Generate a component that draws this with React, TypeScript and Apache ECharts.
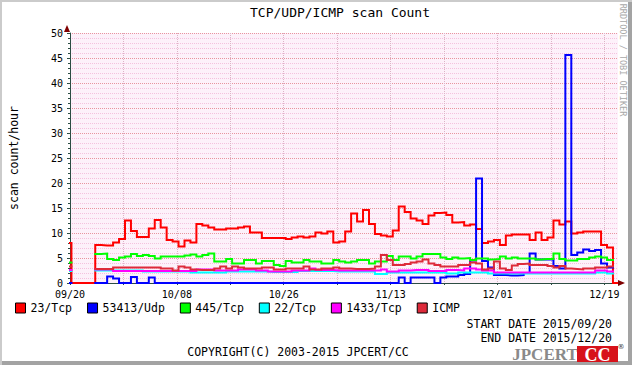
import React, { useEffect, useRef } from 'react';
import * as echarts from 'echarts';

const FONT = '"DejaVu Sans Mono", monospace';
const START_UTC = Date.UTC(2015, 8, 20);
const X_MAX = 92.3;
const BIN_START = -0.76;
const DATA_END = 91.45;
const BIN_COUNT = 92;

const seriesNames = ['23/Tcp', '53413/Udp', '445/Tcp', '22/Tcp', '1433/Tcp', 'ICMP'];
const seriesColors = ['#ff0000', '#0000ff', '#00ff00', '#00ffff', '#ff00ff', '#dd2a3a'];

const N = null;

const tcp23 = [8.0, 0, 0, 0, 0, 7.6, 7.5, 7.5, 8.1, 8.8, 12.5, 10.4, 9.2, 9.2, 10.9, 12.6, 11.1, 8.6, 8.3, 7.3,
  8.5, 8.1, 11.8, 11.5, 11.1, 10.7, 10.7, 10.9, 10.9, 11.1, 11.3, 10.1, 10.1, 9.0, 9.0, 9.0, 9.0, 8.8, 9.1, 9.3,
  9.1, 9.3, 10.1, 9.9, 10.3, 8.1, 8.3, 10.3, 13.9, 12.3, 14.6, 11.8, 9.8, 9.5, 9.3, 10.5, 15.3, 14.2, 12.9, 12.5,
  11.8, 13.5, 14.0, 14.1, 13.6, 12.1, 12.2, 11.5, 11.7, 10.8, 8.0, 8.3, 8.6, 7.6, 9.5, 9.7, 9.7, 9.7, 8.6, 10.1,
  8.6, 9.1, 12.5, 11.7, 12.3, 9.9, 10.1, 10.3, 10.3, 10.3, 7.6, 7.1];

const udp53413 = [0, N, N, N, N, 0, 0, 1.3, 0.9, 0, 0, 1.2, 0, 0, 1.1, 0, 0, 0, 0, 0,
  0, 0, 0, 0, 0, 0, 0, 0, 0, 0, 0, 0, 0, 0, 0, 0, 0, 0, 0, 0,
  0, 0, 0, 0, 0, 0, 0, 0, 0, 0, 0, 0, 0, 0, 0, 0, 1.1, 0, 1.1, 1.1,
  1.1, 1.1, 0, 1.1, 1.3, 1.3, 1.6, 1.8, 4.5, 20.9, 4.4, 3.1, 1.6, 1.6, 1.5, 1.5, 1.6, 2.0, 5.9, 4.7,
  4.7, 4.7, 3.4, 2.9, 45.6, 5.6, 6.1, 6.7, 6.4, 6.6, 3.9, 3.1];

const tcp445 = [4.1, N, N, N, N, 5.8, 5.9, 4.8, 4.6, 5.1, 5.3, 5.8, 5.4, 5.6, 5.4, 4.9, 5.3, 5.3, 5.3, 5.3,
  5.5, 5.7, 5.3, 5.6, 5.9, 4.3, 4.3, 4.8, 3.9, 3.9, 4.6, 4.6, 3.9, 4.4, 4.4, 3.6, 3.4, 4.4, 4.1, 4.1,
  4.6, 4.3, 4.3, 3.9, 3.9, 4.6, 4.3, 4.1, 4.3, 4.6, 4.6, 3.9, 4.3, 4.3, 5.4, 4.6, 5.3, 5.3, 4.9, 5.3,
  5.8, 5.8, 5.8, 5.1, 4.8, 5.1, 4.9, 5.0, 4.6, 4.9, 4.9, 4.7, 4.8, 5.3, 4.9, 5.1, 4.9, 4.9, 4.9, 4.7,
  4.8, 4.8, 5.9, 4.8, 4.5, 4.5, 4.8, 4.8, 5.1, 5.3, 5.1, 4.6];

const tcp22 = [2.4, N, N, N, N, 2.5, 2.5, 2.5, 2.5, 2.5, 2.5, 2.5, 2.5, 2.3, 2.3, 2.3, 2.3, 2.3, 2.3, 2.3,
  2.3, 2.1, 2.1, 2.1, 2.1, 2.1, 2.1, 2.3, 2.3, 2.3, 2.3, 2.3, 2.3, 2.3, 2.2, 2.2, 2.2, 2.2, 2.2, 2.4,
  2.4, 2.4, 2.4, 2.4, 2.4, 2.3, 2.3, 2.3, 2.3, 2.3, 2.3, 2.3, 1.8, 1.8, 2.1, 2.1, 2.1, 2.1, 2.1, 2.1,
  2.1, 2.1, 2.1, 2.1, 1.9, 1.9, 2.1, 2.1, 2.1, 2.1, 2.1, 1.9, 1.9, 1.9, 1.9, 1.9, 1.9, 1.9, 1.9, 1.9,
  1.9, 1.9, 1.9, 1.9, 1.9, 1.9, 1.9, 1.9, 1.9, 2.1, 2.1, 1.9];

const tcp1433 = [2.6, N, N, N, N, 2.7, 2.7, 2.7, 2.4, 2.4, 2.4, 2.4, 2.4, 2.4, 2.4, 2.4, 2.4, 2.4, 2.4, 2.4,
  2.4, 2.4, 2.7, 2.7, 2.7, 2.5, 2.5, 2.5, 2.5, 2.7, 2.7, 2.7, 2.5, 2.5, 2.3, 2.3, 2.3, 2.3, 2.5, 2.5,
  2.5, 2.9, 2.6, 2.6, 2.6, 2.5, 2.5, 2.5, 2.5, 2.5, 2.5, 2.5, 2.5, 2.7, 2.3, 2.3, 2.5, 2.5, 2.6, 2.6,
  2.6, 2.4, 2.4, 2.4, 2.6, 2.6, 2.5, 2.9, 2.9, 2.7, 2.5, 2.5, 2.1, 2.1, 2.1, 2.1, 2.1, 2.1, 2.1, 2.1,
  2.1, 2.1, 2.1, 2.1, 2.1, 2.1, 2.1, 2.1, 2.1, 2.5, 2.5, 2.3];

const icmp = [3.3, N, N, N, N, 2.8, 2.8, 2.8, 3.1, 3.1, 3.1, 3.1, 3.1, 3.1, 3.1, 3.1, 2.9, 2.9, 2.5, 3.3,
  3.1, 2.7, 2.6, 2.6, 2.6, 2.9, 3.3, 2.9, 3.3, 3.1, 2.9, 2.9, 2.9, 3.1, 3.1, 2.7, 2.7, 2.9, 2.9, 2.9,
  3.3, 2.7, 2.7, 2.9, 2.9, 3.1, 2.9, 2.9, 2.8, 2.8, 2.8, 2.9, 3.3, 5.6, 4.6, 3.6, 3.6, 3.8, 4.1, 4.3,
  4.7, 3.9, 3.6, 3.3, 3.3, 3.3, 3.6, 3.6, 4.1, 3.9, 2.7, 2.9, 4.3, 2.9, 2.6, 3.5, 3.8, 3.9, 3.6, 3.6,
  3.6, 3.4, 3.1, 3.4, 2.9, 2.8, 2.7, 2.9, 2.9, 3.1, 3.1, 3.3];

const seriesValues = [tcp23, udp53413, tcp445, tcp22, tcp1433, icmp];

const startDateText = 'START DATE 2015/09/20';
const endDateText = 'END DATE 2015/12/20';
const copyrightText = 'COPYRIGHT(C) 2003-2015 JPCERT/CC';
const vendorText = 'RRDTOOL / TOBI OETIKER';

function dayLabel(d: number): string {
  const dt = new Date(START_UTC + Math.round(d) * 86400000);
  const mm = String(dt.getUTCMonth() + 1).padStart(2, '0');
  const dd = String(dt.getUTCDate()).padStart(2, '0');
  return `${mm}/${dd}`;
}

function toSteps(vals: (number | null)[], dropToZero: boolean) {
  const w = (DATA_END - BIN_START) / BIN_COUNT;
  const pts: any[] = [];
  vals.forEach((v, k) => {
    const s = BIN_START + k * w;
    const e = s + w;
    if (v === null) pts.push([s, '-']);
    else {
      pts.push([s, v]);
      pts.push([e, v]);
    }
  });
  if (dropToZero) {
    pts.push([DATA_END, 0]);
    pts.push([X_MAX, 0]);
  }
  return pts;
}

export default function App() {
  const ref = useRef<HTMLDivElement>(null);
  useEffect(() => {
    const chart = echarts.init(ref.current!, null, { renderer: 'svg' });
    const option: any = {
      animation: false,
      title: {
        text: 'TCP/UDP/ICMP scan Count',
        left: 250,
        top: 6,
        padding: 0,
        textStyle: { fontFamily: FONT, fontSize: 13, fontWeight: 'normal', color: '#000' },
      },
      grid: {
        left: 67,
        top: 33,
        width: 551,
        height: 250,
        show: true,
        backgroundColor: '#fdf1fa',
        borderWidth: 0,
      },
      xAxis: {
        type: 'value',
        min: 0,
        max: X_MAX,
        interval: 9,
        axisLine: { show: true, onZero: false, lineStyle: { color: '#2c4d43', width: 1 } },
        axisTick: { show: true, length: 2, lineStyle: { color: '#2c4d43' } },
        axisLabel: {
          fontFamily: FONT,
          fontSize: 10,
          color: '#000',
          margin: 6,
          showMaxLabel: false,
          formatter: (v: number) => (Math.round(v) % 18 === 0 && v < X_MAX - 1 ? dayLabel(v) : ''),
        },
        splitLine: {
          show: true,
          showMinLine: false,
          showMaxLine: false,
          lineStyle: { color: '#dcb4c6', type: [1, 1], width: 1 },
        },
      },
      yAxis: {
        type: 'value',
        min: 0,
        max: 50,
        interval: 5,
        name: 'scan count/hour',
        nameLocation: 'middle',
        nameGap: 50,
        nameRotate: 90,
        nameTextStyle: { fontFamily: FONT, fontSize: 11.5, color: '#000' },
        axisLine: { show: true, lineStyle: { color: '#2c4d43', width: 1 } },
        axisTick: { show: true, length: 3, lineStyle: { color: '#2c4d43' } },
        minorTick: { show: true, splitNumber: 5, length: 2, lineStyle: { color: '#2c4d43' } },
        axisLabel: { fontFamily: FONT, fontSize: 10, color: '#000', margin: 7 },
        splitLine: { show: true, lineStyle: { color: '#e8949f', type: [1, 1], width: 1 } },
        minorSplitLine: { show: true, lineStyle: { color: '#f4c2de', type: [1, 1], width: 1 } },
      },
      legend: {
        left: 15,
        top: 302,
        padding: 0,
        itemWidth: 10,
        itemHeight: 10,
        itemGap: 15,
        icon: 'rect',
        selectedMode: false,
        textStyle: { fontFamily: FONT, fontSize: 11.5, color: '#000' },
        itemStyle: { borderColor: '#000', borderWidth: 1 },
        data: seriesNames,
      },
      series: seriesNames.map((name, i) => ({
        name,
        type: 'line',
        data: toSteps(seriesValues[i], i === 0),
        showSymbol: false,
        symbol: 'none',
        connectNulls: false,
        silent: true,
        color: seriesColors[i],
        itemStyle: { color: seriesColors[i] },
        lineStyle: { width: 2, color: seriesColors[i], cap: 'square', join: 'miter' },
        z: 2 + i,
      })),
      graphic: [
        { type: 'polygon', silent: true, z: 100, shape: { points: [[64, 32], [70, 32], [67, 25]] }, style: { fill: '#7f0000' } },
        { type: 'polygon', silent: true, z: 100, shape: { points: [[618, 280], [618, 286], [625, 283]] }, style: { fill: '#7f0000' } },
        {
          type: 'text', silent: true, x: 623, y: 60, rotation: -Math.PI / 2,
          style: { text: vendorText, fontFamily: FONT, fontSize: 8.5, fill: '#a8a8a8', align: 'center', verticalAlign: 'middle' },
        },
        {
          type: 'text', silent: true, x: 612, y: 324,
          style: { text: startDateText, fontFamily: FONT, fontSize: 11.5, fill: '#000', align: 'right', verticalAlign: 'middle' },
        },
        {
          type: 'text', silent: true, x: 612, y: 338,
          style: { text: endDateText, fontFamily: FONT, fontSize: 11.5, fill: '#000', align: 'right', verticalAlign: 'middle' },
        },
        {
          type: 'text', silent: true, x: 298, y: 352,
          style: { text: copyrightText, fontFamily: FONT, fontSize: 11.5, fill: '#000', align: 'center', verticalAlign: 'middle' },
        },
        {
          type: 'text', silent: true, x: 545, y: 354,
          style: { text: 'JPCERT', fontFamily: '"Liberation Serif", serif', fontWeight: 'bold', fontSize: 17, fill: '#8a8a8a', align: 'center', verticalAlign: 'middle' },
        },
        { type: 'rect', silent: true, shape: { x: 577, y: 346, width: 41, height: 16 }, style: { fill: '#d7121a' } },
        {
          type: 'text', silent: true, x: 597.5, y: 354.5,
          style: { text: 'CC', fontFamily: '"Liberation Serif", serif', fontWeight: 'bold', fontSize: 18, fill: '#ffffff', align: 'center', verticalAlign: 'middle' },
        },
        {
          type: 'text', silent: true, x: 621, y: 347,
          style: { text: '®', fontFamily: '"DejaVu Sans", sans-serif', fontSize: 7, fill: '#333', align: 'center', verticalAlign: 'middle' },
        },
      ],
    };
    chart.setOption(option);
    return () => chart.dispose();
  }, []);
  return (
    <div
      ref={ref}
      style={{
        position: 'absolute',
        left: 0,
        top: 0,
        width: 632,
        height: 365,
        background: '#ffffff',
        boxShadow: 'inset 2px 2px 0 #cbcbcb, inset -4px -4px 0 #a3a3a3',
      }}
    />
  );
}
